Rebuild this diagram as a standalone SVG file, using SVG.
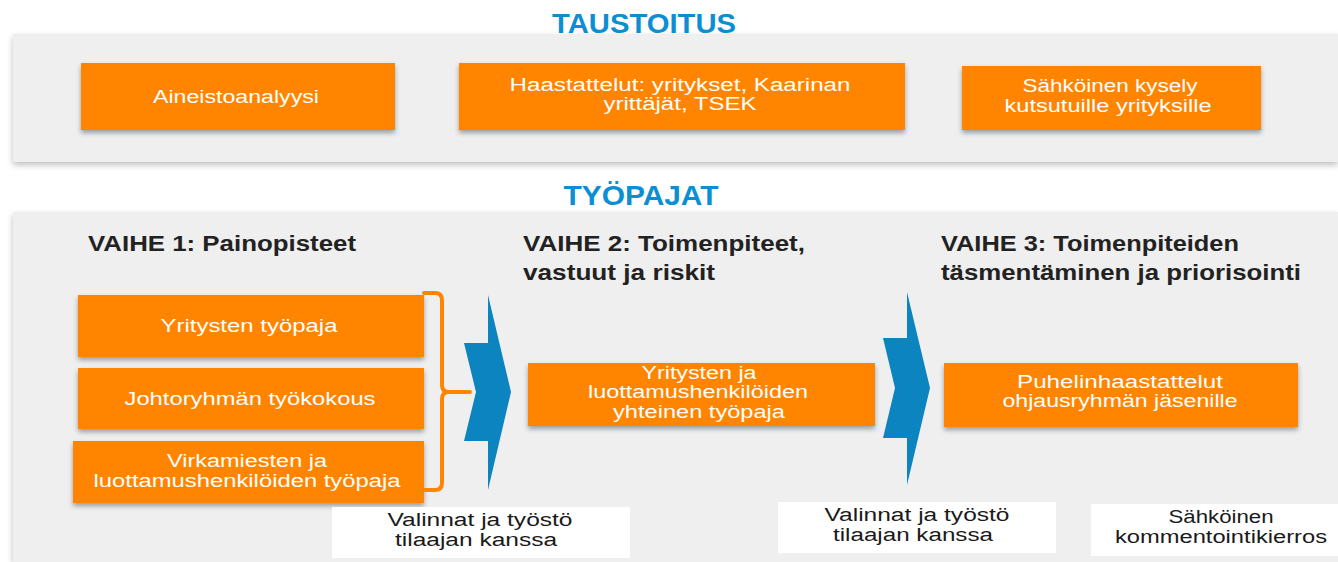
<svg xmlns="http://www.w3.org/2000/svg" width="1338" height="562" viewBox="0 0 1338 562">
<defs>
<filter id="sh" x="-10%" y="-10%" width="120%" height="140%">
<feDropShadow dx="0" dy="3" stdDeviation="2.5" flood-color="#000" flood-opacity="0.35"/>
</filter>
<filter id="psh" x="-5%" y="-5%" width="110%" height="115%">
<feDropShadow dx="0" dy="3" stdDeviation="3" flood-color="#000" flood-opacity="0.25"/>
</filter>
<style>
.panel{fill:#efefef}
.box{fill:#ff8500;filter:url(#sh)}
.wbox{fill:#ffffff}
.t{font-family:"Liberation Sans",Arial,sans-serif;font-size:18px;fill:#ffffff;text-anchor:middle}
.d{font-family:"Liberation Sans",Arial,sans-serif;font-size:18px;fill:#1a1a1a;text-anchor:middle}
.h{font-family:"Liberation Sans",Arial,sans-serif;font-weight:bold;font-size:22px;fill:#222222}
.title{font-family:"Liberation Sans",Arial,sans-serif;font-weight:bold;font-size:28px;fill:#0b8fd2;text-anchor:middle}
.chev{fill:#0b84c0}
.brace{fill:none;stroke:#ff8500;stroke-width:4;stroke-linecap:round;stroke-linejoin:round}
</style>
</defs>
<rect width="1338" height="562" fill="#ffffff"/>
<g id="panel-top">
<rect class="panel" x="13" y="34" width="1325" height="128" filter="url(#psh)"/>
<text class="title" x="644" y="33" textLength="184" lengthAdjust="spacingAndGlyphs">TAUSTOITUS</text>
</g>
<g id="panel-bottom">
<rect class="panel" x="13" y="212" width="1325" height="350" filter="url(#psh)"/>
<text class="title" x="641" y="205" textLength="155" lengthAdjust="spacingAndGlyphs">TYÖPAJAT</text>
</g>
<g id="aineisto">
<rect class="box" x="81" y="63" width="314" height="67"/>
<text class="t" x="236" y="103" textLength="166" lengthAdjust="spacingAndGlyphs">Aineistoanalyysi</text>
</g>
<g id="haastattelut">
<rect class="box" x="459" y="63" width="446" height="67"/>
<text class="t" x="680" y="91" textLength="341" lengthAdjust="spacingAndGlyphs">Haastattelut: yritykset, Kaarinan</text>
<text class="t" x="680" y="110" textLength="153" lengthAdjust="spacingAndGlyphs">yrittäjät, TSEK</text>
</g>
<g id="kysely">
<rect class="box" x="962" y="66" width="299" height="64"/>
<text class="t" x="1110" y="92" textLength="175" lengthAdjust="spacingAndGlyphs">Sähköinen kysely</text>
<text class="t" x="1108" y="112" textLength="207" lengthAdjust="spacingAndGlyphs">kutsutuille yrityksille</text>
</g>
<g id="vaihe1">
<text class="h" x="88" y="251" textLength="268" lengthAdjust="spacingAndGlyphs">VAIHE 1: Painopisteet</text>
</g>
<g id="vaihe2">
<text class="h" x="523" y="251" textLength="282" lengthAdjust="spacingAndGlyphs">VAIHE 2: Toimenpiteet,</text>
<text class="h" x="523" y="280" textLength="192" lengthAdjust="spacingAndGlyphs">vastuut ja riskit</text>
</g>
<g id="vaihe3">
<text class="h" x="941" y="251" textLength="298" lengthAdjust="spacingAndGlyphs">VAIHE 3: Toimenpiteiden</text>
<text class="h" x="941" y="280" textLength="360" lengthAdjust="spacingAndGlyphs">täsmentäminen ja priorisointi</text>
</g>
<g id="yritysten-tyopaja">
<rect class="box" x="78" y="295" width="346" height="62"/>
<text class="t" x="249" y="332" textLength="177" lengthAdjust="spacingAndGlyphs">Yritysten työpaja</text>
</g>
<g id="johtoryhma">
<rect class="box" x="78" y="368" width="346" height="61"/>
<text class="t" x="250" y="405" textLength="251" lengthAdjust="spacingAndGlyphs">Johtoryhmän työkokous</text>
</g>
<g id="virkamiesten">
<rect class="box" x="73" y="441" width="351" height="62"/>
<text class="t" x="247" y="467" textLength="160" lengthAdjust="spacingAndGlyphs">Virkamiesten ja</text>
<text class="t" x="247" y="487" textLength="307" lengthAdjust="spacingAndGlyphs">luottamushenkilöiden työpaja</text>
</g>
<g id="yhteinen">
<rect class="box" x="528" y="363" width="347" height="63"/>
<text class="t" x="699" y="379" textLength="115" lengthAdjust="spacingAndGlyphs">Yritysten ja</text>
<text class="t" x="698" y="398" textLength="220" lengthAdjust="spacingAndGlyphs">luottamushenkilöiden</text>
<text class="t" x="699" y="418" textLength="172" lengthAdjust="spacingAndGlyphs">yhteinen työpaja</text>
</g>
<g id="puhelin">
<rect class="box" x="944" y="363" width="354" height="64"/>
<text class="t" x="1120" y="388" textLength="206" lengthAdjust="spacingAndGlyphs">Puhelinhaastattelut</text>
<text class="t" x="1120" y="407" textLength="235" lengthAdjust="spacingAndGlyphs">ohjausryhmän jäsenille</text>
</g>
<g id="valinnat1">
<rect class="wbox" x="332" y="507" width="298" height="51"/>
<text class="d" x="480" y="526" textLength="185" lengthAdjust="spacingAndGlyphs">Valinnat ja työstö</text>
<text class="d" x="476" y="546" textLength="162" lengthAdjust="spacingAndGlyphs">tilaajan kanssa</text>
</g>
<g id="valinnat2">
<rect class="wbox" x="778" y="502" width="278" height="51"/>
<text class="d" x="917" y="521" textLength="185" lengthAdjust="spacingAndGlyphs">Valinnat ja työstö</text>
<text class="d" x="913" y="541" textLength="160" lengthAdjust="spacingAndGlyphs">tilaajan kanssa</text>
</g>
<g id="kommentointi">
<rect class="wbox" x="1091" y="504" width="247" height="52"/>
<text class="d" x="1221" y="523" textLength="105" lengthAdjust="spacingAndGlyphs">Sähköinen</text>
<text class="d" x="1221" y="543" textLength="212" lengthAdjust="spacingAndGlyphs">kommentointikierros</text>
</g>
<g id="connectors">
<path class="brace" d="M424,293 H435 Q442,293 442,300 V385 Q442,392 449,392 H470 M449,392 Q442,392 442,399 V483 Q442,490 435,490 H424"/>
<polygon class="chev" points="488,295 511,392 488,490 488,441 464,441 476,392 464,343 488,343"/>
<polygon class="chev" points="907,292 930,388 907,485 907,438 883,438 895,388 883,338 907,338"/>
</g>
</svg>
